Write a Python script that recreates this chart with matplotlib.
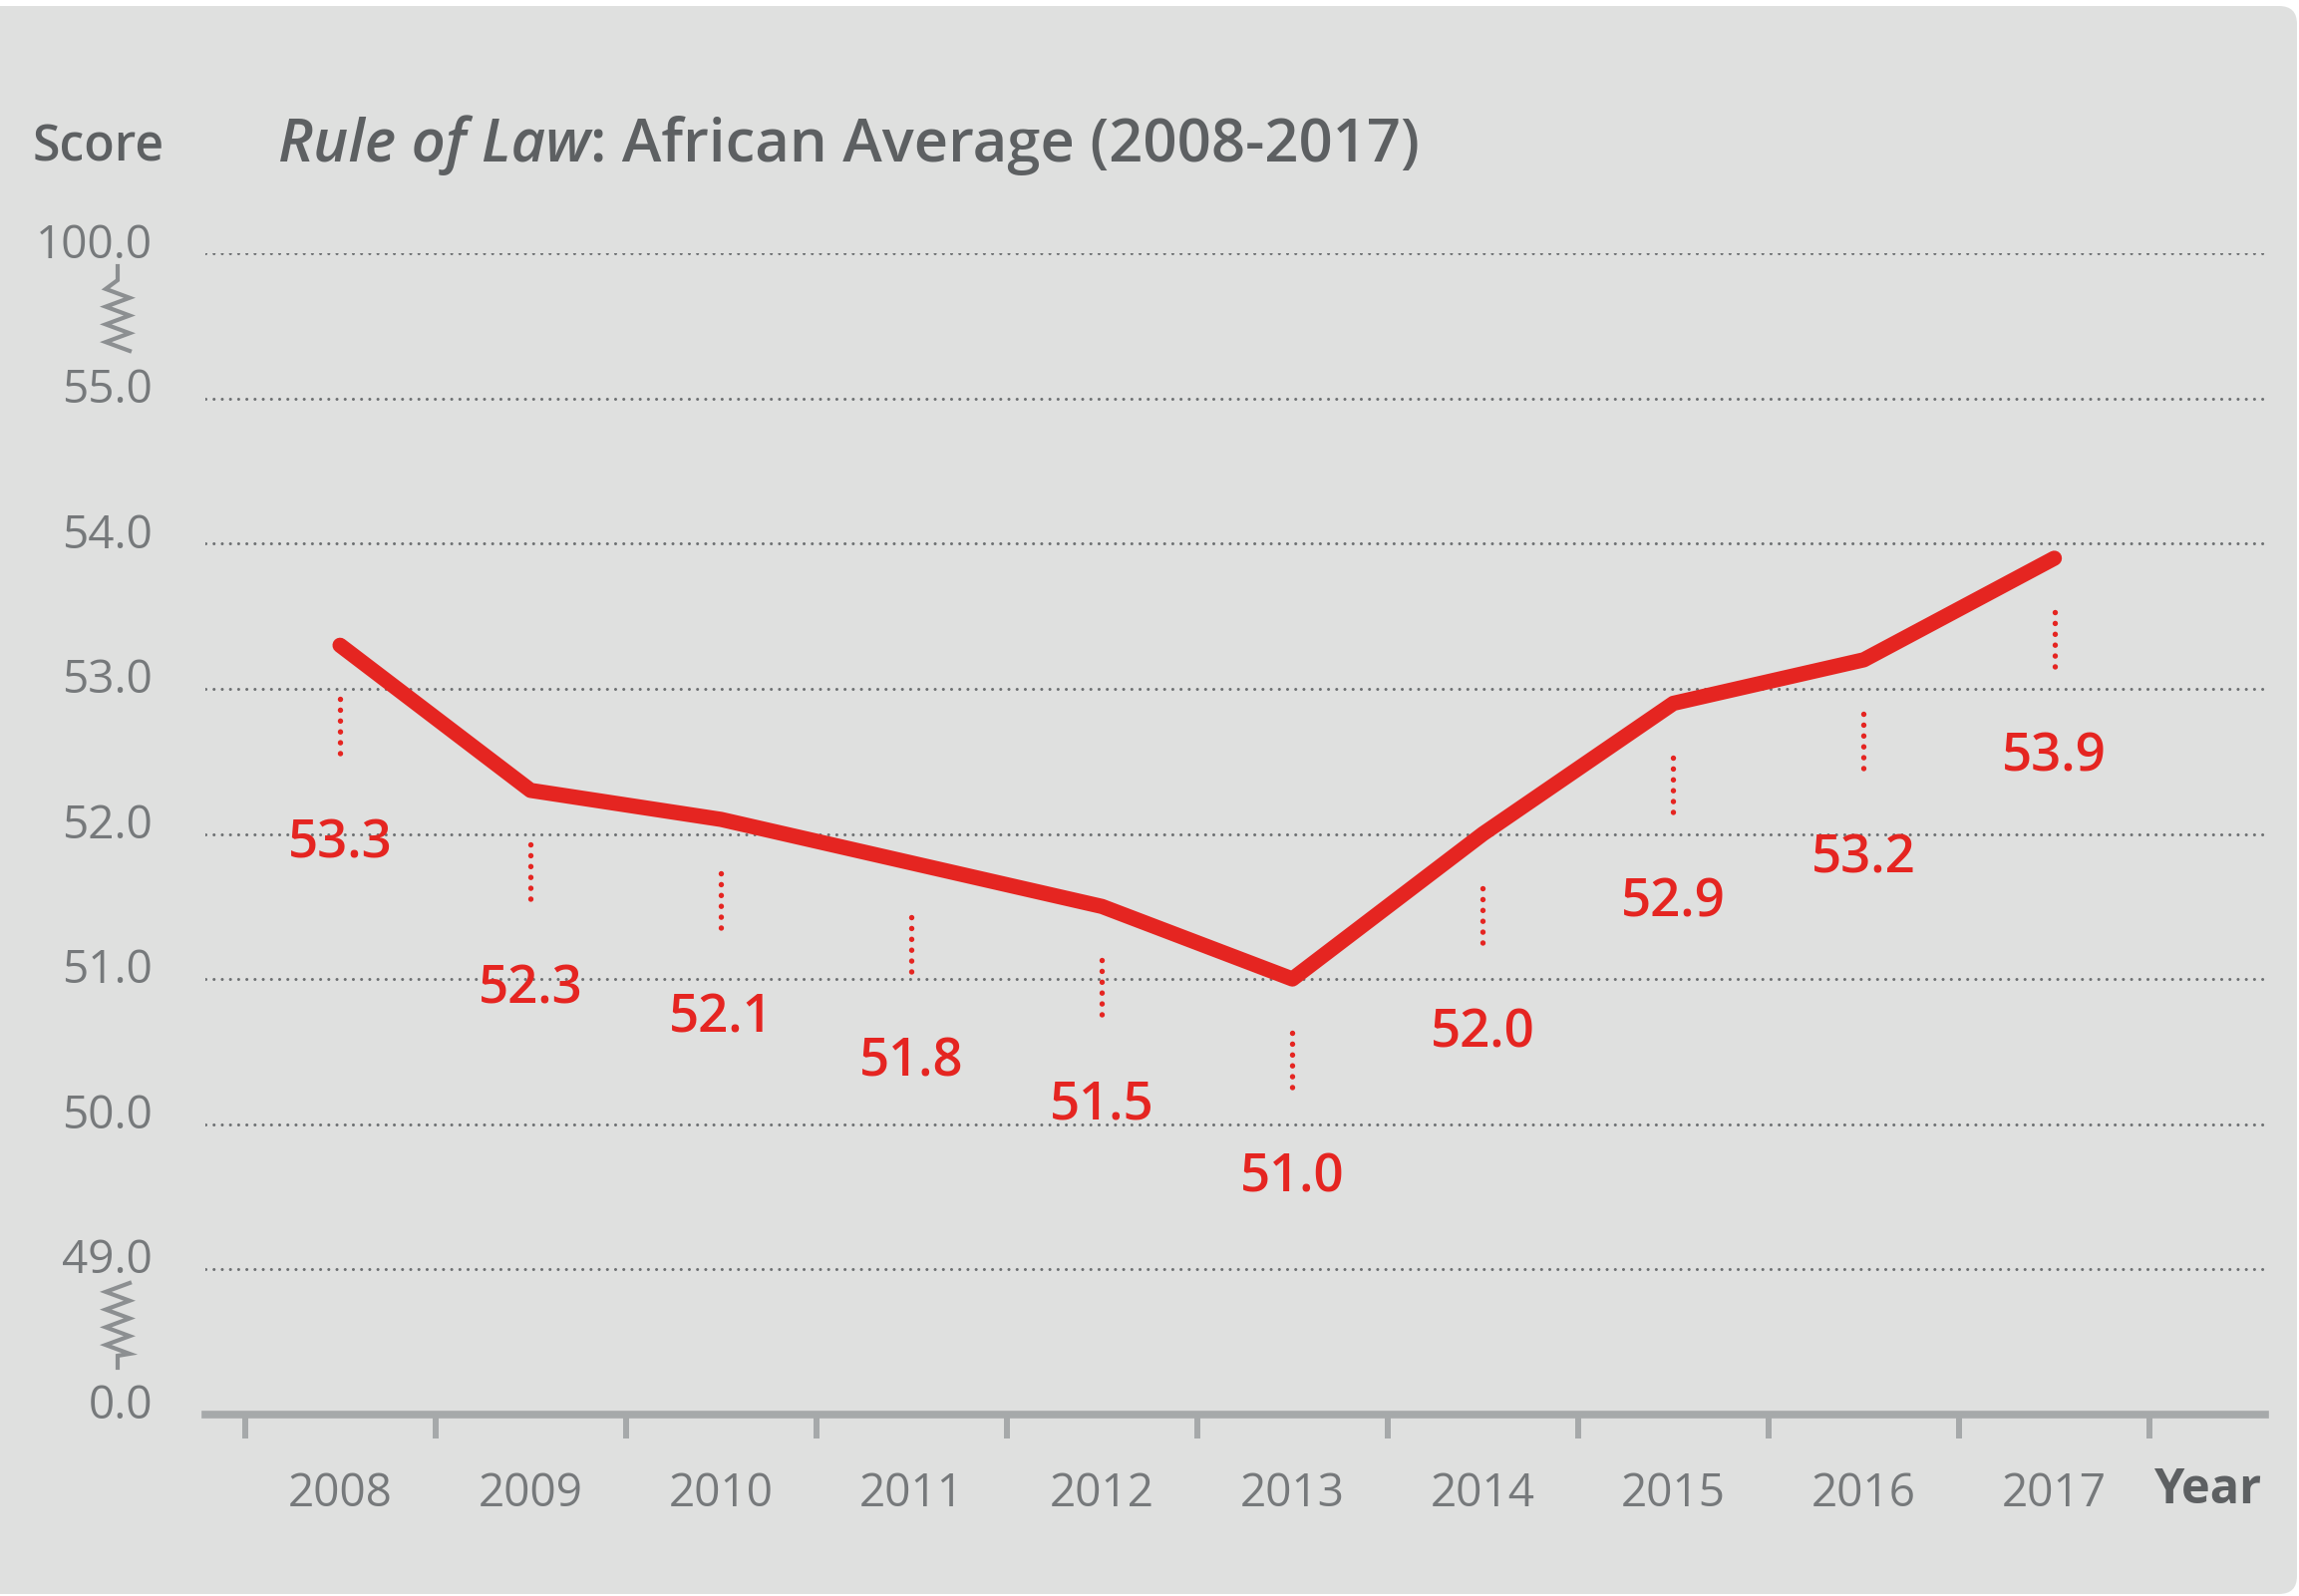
import numpy as np
import matplotlib
matplotlib.use("Agg")
import matplotlib.pyplot as plt
from matplotlib.transforms import IdentityTransform, ScaledTranslation
from matplotlib.lines import Line2D
from matplotlib.patches import FancyBboxPatch

# ---------------- data ----------------
years = ["2008", "2009", "2010", "2011", "2012", "2013", "2014", "2015", "2016", "2017"]
scores = [53.3, 52.3, 52.1, 51.8, 51.5, 51.0, 52.0, 52.9, 53.2, 53.9]
ytick_values = [0.0, 49.0, 50.0, 51.0, 52.0, 53.0, 54.0, 55.0, 100.0]
ytick_labels = ["0.0", "49.0", "50.0", "51.0", "52.0", "53.0", "54.0", "55.0", "100.0"]

# ---------------- style ----------------
plt.rcParams['font.family'] = ['Open Sans', 'DejaVu Sans']
BG = '#dfe0df'
RED = '#e52521'
DARK = '#5d6062'
TICK = '#76797b'
AXIS = '#a6a9aa'
GRID = '#6d7072'

W, H, DPI = 2306, 1601, 100
fig = plt.figure(figsize=(W / DPI, H / DPI), dpi=DPI, facecolor='white')

# rounded grey panel
panel = FancyBboxPatch((-40, 2), W + 40 - 2, H - 8,
                       boxstyle="round,pad=0,rounding_size=18",
                       transform=IdentityTransform(), facecolor=BG,
                       edgecolor='none', zorder=-10)
fig.add_artist(panel)

# axes placement (reference display 1568x1089)
left, right = 140 / 1568, 1545 / 1568
bottom, top = 1 - 965 / 1089, 1 - 173 / 1089
ax = fig.add_axes([left, bottom, right - left, top - bottom])
ax.set_facecolor('none')


# broken axis: equal spacing for 0 | 49..55 | 100
def fwd(v):
    v = np.asarray(v, dtype=float)
    return np.where(v <= 49, v / 49.0, np.where(v <= 55, v - 48.0, 7.0 + (v - 55.0) / 45.0))


def inv(p):
    p = np.asarray(p, dtype=float)
    return np.where(p <= 1, p * 49.0, np.where(p <= 7, p + 48.0, 55.0 + (p - 7.0) * 45.0))


ax.set_yscale('function', functions=(fwd, inv))
ax.set_ylim(0, 100)
n = len(years)
ax.set_xlim(-0.5 - 27 / 130, n - 0.5 + 79 / 130)

# dotted gridlines
for v in ytick_values[1:]:
    ax.axhline(v, color=GRID, lw=2.2, linestyle=(0, (0.01, 2.68)),
               dash_capstyle='round', zorder=1)

# spines
for s in ['left', 'right', 'top']:
    ax.spines[s].set_visible(False)
ax.spines['bottom'].set_color(AXIS)
ax.spines['bottom'].set_linewidth(5.5)
ax.spines['bottom'].set_zorder(2)

# x ticks: labels at categories, tick marks between
x = np.arange(n)
ax.set_xticks(x)
ax.set_xticklabels(years)
ax.set_xticks(np.arange(-0.5, n), minor=True)
ax.tick_params(axis='x', which='major', length=0, pad=41, labelsize=33, labelcolor=TICK)
ax.tick_params(axis='x', which='minor', length=17, width=4.3, color=AXIS, direction='out')

ax.set_yticks(ytick_values)
ax.set_yticklabels(ytick_labels)
ax.yaxis.set_minor_locator(matplotlib.ticker.NullLocator())
ax.tick_params(axis='y', which='major', length=0, pad=38, labelsize=33, labelcolor=TICK)
shift = ScaledTranslation(0, 9.5 / 72, fig.dpi_scale_trans)
for lab in ax.get_yticklabels():
    lab.set_transform(lab.get_transform() + shift)

# main line
ax.plot(x, scores, color=RED, lw=11, solid_capstyle='round',
        solid_joinstyle='round', zorder=5)

# leader dots and value labels
for xi, v in zip(x, scores):
    px, py = ax.transData.transform((xi, v))
    l = Line2D([px, px], [py - 54, py - 118], transform=IdentityTransform(),
               color=RED, lw=3.9, linestyle=(0, (0.01, 2.0)),
               dash_capstyle='round', zorder=4)
    fig.add_artist(l)
    ax.annotate(f"{v:.1f}", xy=(xi, v), xytext=(0, -144), textcoords='offset points',
                ha='center', va='center', color=RED, fontsize=38,
                fontweight='semibold', zorder=6)


# axis break zigzags (decorations, in pixel coordinates)
def zigzag(cx, y_top, y_bot, tail_top=True):
    amp = 12
    tail = 14
    if tail_top:
        ys = [y_top, y_top + tail]
        xs = [cx, cx]
        zy0, zy1 = y_top + tail, y_bot
    else:
        ys, xs = [], []
        zy0, zy1 = y_top, y_bot - tail
    k = 8
    seg = (zy1 - zy0) / k
    for i in range(1, k + 1):
        xs.append(cx - amp if i % 2 == 1 else cx + amp)
        ys.append(zy0 + i * seg)
    if not tail_top:
        xs = [cx + amp] + xs
        ys = [zy0] + ys
        xs += [cx, cx]
        ys += [zy1 + 2, y_bot]
    fig.add_artist(Line2D(xs, [H - yy for yy in ys], transform=IdentityTransform(),
                          color='#8c8f91', lw=3.0, solid_joinstyle='miter'))


zigzag(118, 267, 352, tail_top=True)
zigzag(118, 1287, 1372, tail_top=False)

# texts
ty = 1 - 162 / H
fig.text(22 / 1568, ty, "Score", fontsize=36, fontweight='semibold', color=DARK,
         va='baseline', ha='left')
t1 = fig.text(190 / 1568, ty, "Rule of Law", fontsize=43, fontweight='semibold',
              style='italic', color=DARK, va='baseline', ha='left')
fig.canvas.draw()
r = fig.canvas.get_renderer()
bb = t1.get_window_extent(renderer=r)
fig.text(bb.x1 / W, ty, ": African Average (2008-2017)", fontsize=43,
         fontweight='semibold', color=DARK, va='baseline', ha='left')

fig.text(1542 / 1568, 1 - 1017 / 1089, "Year", fontsize=35, fontweight='bold',
         color=DARK, va='center', ha='right')

fig.savefig("out.png", dpi=DPI, facecolor=fig.get_facecolor())
